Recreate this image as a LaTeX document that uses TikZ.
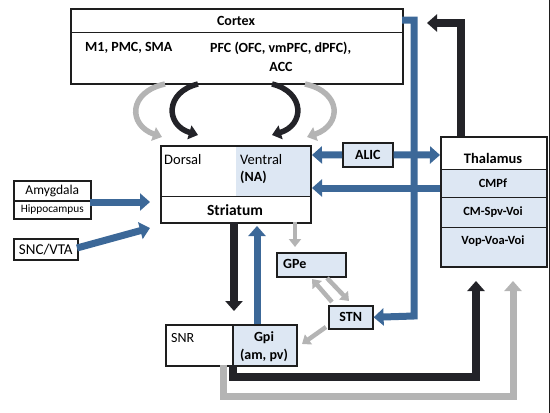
\documentclass[tikz,border=0pt]{standalone}
\usepackage{fontspec}
\setmainfont{Carlito}
\usetikzlibrary{arrows.meta}
\definecolor{cblue}{RGB}{60,104,152}
\definecolor{cgray}{RGB}{180,180,180}
\definecolor{cblack}{RGB}{35,35,40}
\definecolor{cfill}{RGB}{221,231,243}
\definecolor{cline}{RGB}{30,30,30}
\begin{document}
\begin{tikzpicture}[x=1pt,y=-1pt,
  box/.style={draw=cline,line width=1.6pt,inner sep=0pt,anchor=north west},
  lbl/.style={inner sep=0pt,font=\fontsize{14}{16}\selectfont\bfseries},
  slbl/.style={inner sep=0pt,font=\fontsize{14}{16}\selectfont},
  fatb/.style={line width=7pt,line join=miter,draw=cblue,-{Triangle[width=17pt,length=10pt]}},
  fatk/.style={line width=7.5pt,line join=miter,draw=cblack,-{Triangle[width=17pt,length=10pt]}},
  fatg/.style={line width=7pt,line join=miter,draw=cgray,-{Triangle[width=17pt,length=10pt]}},
  thing/.style={line width=4.5pt,draw=cgray,-{Triangle[width=12pt,length=8pt]}},
  curvk/.style={line width=5.5pt,draw=cblack,-{Triangle[width=14pt,length=9pt]}},
  curvg/.style={line width=5.5pt,draw=cgray,-{Triangle[width=14pt,length=9pt]}}]
\useasboundingbox (0,0) rectangle (550,413);
\draw[line width=1pt,cline] (549,0) -- (549,413);

% Cortex
\node[box,minimum width=332pt,minimum height=75pt] (cortex) at (70,8) {};
\draw[line width=1pt,cline] (70,32) -- (402,32);
\node[lbl] (ctx) at (236,21) {Cortex};
\node[lbl,anchor=west] (m1) at (85,48) {M1, PMC, SMA};
\node[lbl,anchor=west] (pfc) at (210,48) {PFC (OFC, vmPFC, dPFC),};
\node[lbl] (acc) at (281,67) {ACC};

% Striatum
\fill[cfill] (236,145) rectangle (310,196);
\node[box,minimum width=150pt,minimum height=77pt] (str) at (160,145) {};
\draw[line width=1pt,cline] (160,196) -- (310,196);
\node[slbl,anchor=west,font=\fontsize{14.5}{16}\selectfont] (dors) at (164,160) {Dorsal};
\node[slbl,anchor=west,font=\fontsize{14.5}{16}\selectfont] (vent) at (240,160) {Ventral};
\node[lbl,anchor=west] (na) at (240,177) {(NA)};
\node[lbl,font=\fontsize{15.5}{17}\selectfont\bfseries] (strl) at (235,210) {Striatum};

% Thalamus
\fill[cfill] (440,169) rectangle (546,266);
\node[box,minimum width=106pt,minimum height=130pt] (thal) at (440,136) {};
\draw[line width=1pt,cline] (440,169) -- (546,169);
\draw[line width=1pt,cline] (440,197) -- (546,197);
\draw[line width=1pt,cline] (440,227) -- (546,227);
\node[lbl,font=\fontsize{14.5}{16}\selectfont\bfseries] (thl) at (493,158) {Thalamus};
\node[lbl,font=\fontsize{12.5}{14}\selectfont\bfseries] (cmpf) at (493,183) {CMPf};
\node[lbl,font=\fontsize{12.5}{14}\selectfont\bfseries] (cmspv) at (493,212) {CM-Spv-Voi};
\node[lbl,font=\fontsize{12.5}{14}\selectfont\bfseries] (vop) at (493,241) {Vop-Voa-Voi};

% small boxes
\node[box,fill=cfill,minimum width=50pt,minimum height=24pt] (alic) at (342,142) {};
\node[lbl] at (alic.center) {ALIC};
\node[box,fill=cfill,minimum width=69pt,minimum height=24pt] (gpe) at (276,252) {};
\node[lbl,anchor=west] at (283,264) {GPe};
\node[box,fill=cfill,minimum width=44pt,minimum height=23pt] (stn) at (328,305) {};
\node[lbl] at (stn.center) {STN};
\node[box,minimum width=67pt,minimum height=41pt] (snr) at (165,324) {};
\node[slbl,anchor=west] at (171,338) {SNR};
\node[box,fill=cfill,minimum width=64pt,minimum height=41pt] (gpi) at (232,324) {};
\node[lbl] at (264,338) {Gpi};
\node[lbl] at (264,355) {(am, pv)};

\node[box,minimum width=77pt,minimum height=20pt] (amy) at (13,180) {};
\node[slbl,font=\fontsize{13.5}{15}\selectfont] at (amy.center) {Amygdala};
\node[box,minimum width=77pt,minimum height=18pt] (hip) at (13,200) {};
\node[slbl,font=\fontsize{11.3}{13}\selectfont] at (hip.center) {Hippocampus};
\node[box,minimum width=64pt,minimum height=21pt] (snc) at (13,238) {};
\node[slbl,font=\fontsize{15}{17}\selectfont] at (snc.center) {SNC/VTA};

% coordinates
\coordinate (ctxtip) at (427,23);
\coordinate (strL1) at (150,202);
\coordinate (strL2) at (150,228);

% blue connectors
\draw[fatb] (402,20) -- (414,20) -- (414,316) -- (stn.east);
\draw[fatb] (alic.west) -- (312,155);
\draw[fatb] (alic.east) -- (440,155);
\draw[fatb] (440,188) -- (312,188);
\draw[fatb] (257,324) -- (257,226);
\draw[fatb] (90,202) -- (strL1);
\draw[fatb] (77,248) -- (strL2);

% black connectors
\draw[fatk] (461,136) -- (461,23) -- (ctxtip);
\draw[fatk] (234,222) -- (234,311);
\draw[fatk] (233,365) -- (233,377) -- (476,377) -- (476,281);

% gray connectors
\draw[fatg] (223,365) -- (223,396) -- (513,396) -- (513,281);
\draw[thing] (295,222) -- (295,247);
\draw[thing] (332,302) -- (312,279);
\draw[thing] (327,278) -- (349,301);
\draw[thing] (326,327) -- (302,344);

% curved arrows
\draw[curvg] (165,84) .. controls (128,92) and (128,125) .. (162,137);
\draw[curvk] (198,84) .. controls (165,92) and (165,125) .. (198,135);
\draw[curvk] (272,84) .. controls (305,92) and (305,125) .. (272,135);
\draw[curvg] (305,84) .. controls (342,92) and (342,125) .. (307,137);
\end{tikzpicture}
\end{document}
